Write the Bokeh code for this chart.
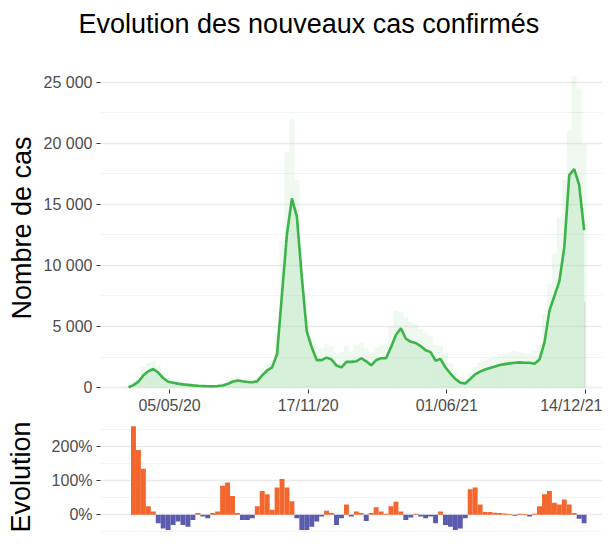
import pandas as pd
from bokeh.plotting import figure
from bokeh.layouts import column
from bokeh.models import FixedTicker, DatetimeTickFormatter, Range1d
from bokeh.core.properties import value
from bokeh.embed import file_html
from bokeh.resources import INLINE

# ---------------- data (weekly) ----------------
title_text = "Evolution des nouveaux cas confirmés"
week_start = "2020-03-08"
n_weeks = 93
dates = pd.date_range(week_start, periods=n_weeks, freq="7D")

smooth_cases = [
    20, 200, 480, 1000, 1330, 1520, 1230, 780, 470, 400,
    320, 260, 220, 180, 150, 130, 110, 100, 120, 170,
    290, 470, 580, 510, 460, 430, 520, 1000, 1400, 1650,
    2750, 7700, 12600, 15500, 14000, 9000, 4600, 3300, 2250, 2250,
    2450, 2300, 1800, 1650, 2100, 2100, 2150, 2400, 2150, 1820,
    2250, 2400, 2400, 3300, 4300, 4850, 4000, 3750, 3650, 3400,
    3050, 2900, 2200, 2350, 1650, 1150, 700, 400, 330, 700,
    1080, 1300, 1480, 1600, 1720, 1850, 1920, 1980, 2030, 2060,
    2030, 2030, 1950, 2300, 3700, 6300, 7500, 8700, 11500, 17400,
    17900, 16600, 12900,
]

daily_cases_max = [
    100, 500, 900, 1700, 2000, 2200, 1800, 1200, 800, 600,
    500, 400, 350, 300, 250, 200, 200, 180, 250, 350,
    600, 800, 900, 750, 700, 650, 900, 1500, 2000, 2300,
    4500, 12000, 19300, 22000, 17000, 9000, 5500, 4000, 3300, 3200,
    3600, 3400, 2800, 2900, 3400, 3000, 3500, 3700, 3200, 2900,
    3300, 3500, 3600, 5000, 6300, 6200, 5800, 5400, 5200, 4800,
    4500, 4200, 3500, 3400, 2800, 2000, 1300, 900, 800, 1200,
    1700, 2100, 2300, 2400, 2500, 2700, 2800, 2900, 3000, 2900,
    2800, 2800, 3000, 3500, 6000, 8500, 11000, 14000, 17000, 21000,
    25500, 24500, 20000,
]

evolution_pct = [
    0, 260, 190, 135, 25, 10, -25, -40, -45, -30,
    -20, -30, -35, -15, 5, -5, -10, 5, 10, 85,
    95, 55, 5, -15, -15, -10, 25, 70, 60, 15,
    80, 105, 80, 40, -10, -45, -45, -35, -20, -5,
    12, 5, -30, -10, 30, -5, 10, 5, -18, 5,
    22, 10, 3, 25, 38, 10, -15, -8, 3, -5,
    -10, -5, -25, 10, -30, -35, -45, -40, -10, 75,
    80, 30, 8, 8, 6, 5, 4, 2, -3, 3,
    2, -5, 3, 25, 60, 70, 35, 30, 45, 30,
    5, -12, -25,
]

last_day = "2021-12-13"
last_day_cases = 7000

x_tick_dates = ["2020-05-05", "2020-11-17", "2021-06-01", "2021-12-14"]
y_ticks = [0, 5000, 10000, 15000, 20000, 25000]
y_tick_labels = ["0", "5 000", "10 000", "15 000", "20 000", "25 000"]
y_minor = [2500, 7500, 12500, 17500, 22500]
evo_ticks = [0, 100, 200]
evo_tick_labels = ["0%", "100%", "200%"]
evo_minor = [-50, 50, 150, 250]

# ---------------- styling ----------------
FONT = "Liberation Sans"
GREEN = "#3cb44a"
PALE = "#9fd9a4"
ORANGE = "#f3672f"
BLUE = "#5b5bb0"
DAY = 86400000.0
W = 602


def ms(d):
    return pd.Timestamp(d).timestamp() * 1000.0


ref = ms("2020-05-05")
x_start = ref - 97.6 * DAY
x_end = ref + 612.0 * DAY


def style_common(p):
    p.outline_line_color = None
    p.background_fill_color = "white"
    p.border_fill_color = "white"
    p.xgrid.grid_line_color = None
    for ax in p.yaxis:
        ax.axis_line_color = None
        ax.major_tick_in = 0
        ax.major_tick_out = 4
        ax.major_tick_line_color = "#333333"
        ax.minor_tick_line_color = None
        ax.major_label_text_font = FONT
        ax.major_label_text_font_size = "16px"
        ax.major_label_text_color = "#4d4d4d"
        ax.major_label_standoff = 4
        ax.axis_label_text_font = FONT
        ax.axis_label_text_font_size = "27px"
        ax.axis_label_text_font_style = "normal"
        ax.axis_label_text_color = "black"
    p.ygrid.grid_line_color = "#ebebeb"
    p.ygrid.grid_line_width = 1.3
    p.ygrid.minor_grid_line_color = "#f3f3f3"
    p.ygrid.minor_grid_line_width = 1.0


# ---------------- title strip (pixel coordinates) ----------------
TH = 44
p0 = figure(width=W, height=TH, x_range=Range1d(0, W), y_range=Range1d(0, TH),
            output_backend="svg", toolbar_location=None,
            x_axis_location=None, y_axis_location=None,
            min_border_left=0, min_border_right=0,
            min_border_top=0, min_border_bottom=0)
if "frame_align" in p0.properties():
    p0.frame_align = False
    title_x = 78
else:
    p0.x_range = Range1d(100, W)
    p0.min_border_left = 100
    title_x = 100
p0.outline_line_color = None
p0.grid.visible = False
p0.background_fill_color = "white"
p0.border_fill_color = "white"
p0.text(x=[title_x], y=[TH - 23], text=[title_text], text_font=value(FONT),
        text_font_size="27px", text_color="black",
        text_align="left", text_baseline="alphabetic")

# ---------------- top panel ----------------
p1 = figure(width=W, height=372, x_axis_type="datetime",
            x_range=Range1d(x_start, x_end), y_range=Range1d(-160, 26300),
            output_backend="svg", toolbar_location=None,
            min_border_left=100, min_border_right=0,
            min_border_top=22, min_border_bottom=26)
style_common(p1)
yt = FixedTicker(ticks=y_ticks, minor_ticks=y_minor)
p1.yaxis.ticker = yt
p1.ygrid.ticker = yt
p1.yaxis.major_label_overrides = dict(zip(y_ticks, y_tick_labels))
p1.yaxis.axis_label = "Nombre de cas"
p1.yaxis.axis_label_standoff = 4

p1.xaxis.ticker = FixedTicker(ticks=[ms(d) for d in x_tick_dates])
fmt = "%d/%m/%y"
p1.xaxis.formatter = DatetimeTickFormatter(
    milliseconds=fmt, seconds=fmt, minsec=fmt, minutes=fmt, hourmin=fmt,
    hours=fmt, days=fmt, months=fmt, years=fmt)
p1.xaxis.axis_line_color = None
p1.xaxis.major_tick_in = 0
p1.xaxis.major_tick_out = 4
p1.xaxis.major_tick_line_color = "#333333"
p1.xaxis.minor_tick_line_color = None
p1.xaxis.major_label_text_font = FONT
p1.xaxis.major_label_text_font_size = "16px"
p1.xaxis.major_label_text_color = "#4d4d4d"
p1.xaxis.major_label_standoff = 3

p1.vbar(x=dates, top=daily_cases_max, width=7.0 * DAY,
        fill_color=PALE, fill_alpha=0.17, line_color=None)
p1.varea(x=dates, y1=0, y2=smooth_cases, fill_color=PALE, fill_alpha=0.3)
p1.vbar(x=[pd.Timestamp(last_day)], top=[last_day_cases], width=1.0 * DAY,
        fill_color="#bdbdbd", fill_alpha=0.8, line_color=None)
p1.line(x=dates, y=smooth_cases, line_color=GREEN, line_width=2.6)

# ---------------- bottom panel ----------------
p2 = figure(width=W, height=118, x_axis_type="datetime",
            x_range=p1.x_range, y_range=Range1d(-55, 277),
            output_backend="svg", toolbar_location=None,
            min_border_left=100, min_border_right=0,
            min_border_top=4, min_border_bottom=1)
style_common(p2)
p2.xaxis.visible = False
et = FixedTicker(ticks=evo_ticks, minor_ticks=evo_minor)
p2.yaxis.ticker = et
p2.ygrid.ticker = et
p2.yaxis.major_label_overrides = dict(zip(evo_ticks, evo_tick_labels))
p2.yaxis.axis_label = "Evolution"
p2.yaxis.axis_label_standoff = 13

evo_colors = [ORANGE if v >= 0 else BLUE for v in evolution_pct]
p2.vbar(x=dates, top=evolution_pct, bottom=0, width=7.0 * DAY,
        fill_color=evo_colors, line_color=None)

layout = column(p0, p1, p2, spacing=0)
open("out.html", "w").write(file_html(layout, INLINE))
